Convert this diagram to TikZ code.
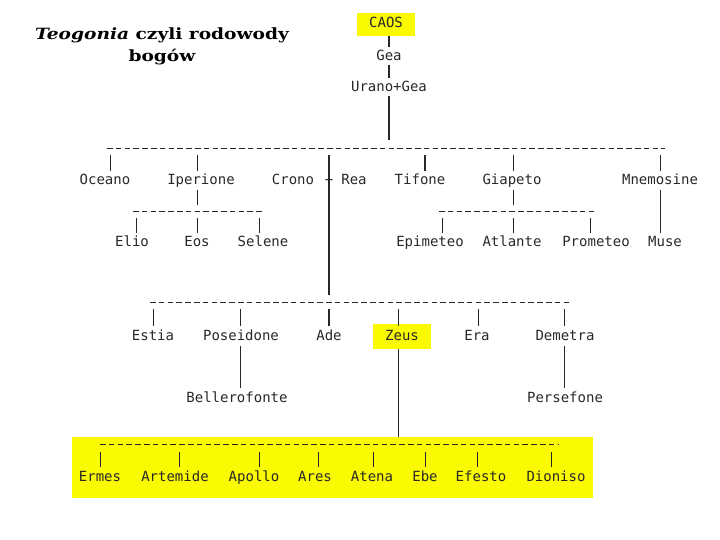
\documentclass[tikz,border=0pt]{standalone}
\usepackage{fontspec}
\setmainfont{DejaVu Serif}
\newfontfamily\treefont{DejaVu Sans Mono}
\usetikzlibrary{positioning,calc}
\definecolor{caosyellow}{RGB}{250,250,0}
\definecolor{inkgray}{RGB}{40,40,40}

\begin{document}
\begin{tikzpicture}[x=1pt,y=-1pt,
    god/.style={font=\treefont\fontsize{14}{14}\selectfont, text=inkgray, anchor=base,
      inner sep=0pt, text height=10pt, text depth=3pt},
    marked/.style={god, fill=caosyellow, inner xsep=12pt, inner ysep=6pt},
    pipe/.style={draw=inkgray, line width=0.8pt},
    trunk/.style={draw=inkgray, line width=2pt},
    dashrow/.style={draw=inkgray, line width=0.8pt, dash pattern=on 5.5pt off 3.3pt}]
  \useasboundingbox (0,0) rectangle (720,540);

  \node[font=\bfseries\fontsize{15.5}{22}\selectfont, align=center, anchor=base] (title) at (162,62)
    {\scalebox{1.2}[1]{\textit{Teogonia} czyli rodowody}\\\scalebox{1.2}[1]{bogów}};

  % Caos, Gea, Urano
  \node[marked, inner ysep=5pt] (caos) at (386,28) {CAOS};
  \node[god] (gea) at (389,61) {Gea};
  \node[god] (urano) at (389,92) {Urano+Gea};
  \draw[trunk] (389,0 |- caos.south) -- ([yshift=4pt]gea.north);
  \draw[trunk] (gea.south) ++(0,1) -- ([yshift=4pt]urano.north);
  \draw[trunk] (urano.south) ++(0,1) -- (389,140);

  % titani
  \coordinate (r1L) at (107,148);
  \coordinate (r1R) at (665,148);
  \draw[dashrow] (r1L) -- (r1R);
  \node[god] (oceano) at (105,185) {Oceano};
  \node[god] (iperione) at (201,185) {Iperione};
  \node[god] (crono) at (293,185) {Crono};
  \node[god] (plus) at (329,185) {+};
  \node[god] (rea) at (354,185) {Rea};
  \node[god] (tifone) at (420,185) {Tifone};
  \node[god] (giapeto) at (512,185) {Giapeto};
  \node[god] (mnemosine) at (660,185) {Mnemosine};
  \foreach \n/\x in {oceano/110, iperione/197, giapeto/513, mnemosine/660}
    \draw[pipe] (\x,0 |- \n.base) ++(0,-14) -- (\x,155);
  \draw[trunk] (425,0 |- tifone.base) ++(0,-14) -- (425,155);
  \draw[trunk] (plus.north |- r1L) ++(0,7) -- (329,295);

  % figli di Iperione
  \draw[pipe] (197,0 |- iperione.south) ++(0,2) -- (197,205);
  \draw[dashrow] (133,211) coordinate (r2aL) -- (262,211) coordinate (r2aR);
  \node[god] (elio) at (132,247) {Elio};
  \node[god] (eos) at (197,247) {Eos};
  \node[god] (selene) at (263,247) {Selene};
  \foreach \n/\x in {elio/136, eos/197, selene/259}
    \draw[pipe] (\x,0 |- \n.base) ++(0,-14) -- (\x,218);

  % figli di Giapeto
  \draw[pipe] (513,0 |- giapeto.south) ++(0,2) -- (513,205);
  \draw[dashrow] (439,211) coordinate (r2bL) -- (594,211) coordinate (r2bR);
  \node[god] (epimeteo) at (430,247) {Epimeteo};
  \node[god] (atlante) at (512,247) {Atlante};
  \node[god] (prometeo) at (596,247) {Prometeo};
  \node[god] (muse) at (665,247) {Muse};
  \foreach \n/\x in {epimeteo/442, atlante/513, prometeo/590}
    \draw[pipe] (\x,0 |- \n.base) ++(0,-14) -- (\x,218);
  \draw[pipe] (660,0 |- muse.base) ++(0,-14) -- (660,190);

  % figli di Crono e Rea
  \coordinate (r3L) at (150,302);
  \coordinate (r3R) at (570,302);
  \draw[dashrow] (r3L) -- (r3R);
  \node[god] (estia) at (153,340) {Estia};
  \node[god] (poseidone) at (241,340) {Poseidone};
  \node[god] (ade) at (329,340) {Ade};
  \node[marked] (zeus) at (402,340) {Zeus};
  \node[god] (era) at (477,340) {Era};
  \node[god] (demetra) at (565,340) {Demetra};
  \foreach \n/\x in {estia/153, poseidone/240, zeus/398, era/478, demetra/564}
    \draw[pipe] (\x,0 |- \n.base) ++(0,-14) -- (\x,309);
  \draw[trunk] (329,0 |- ade.base) ++(0,-14) -- (329,309);

  \node[god] (bellerofonte) at (237,402) {Bellerofonte};
  \node[god] (persefone) at (565,402) {Persefone};
  \draw[pipe] (240,0 |- bellerofonte.base) ++(0,-14) -- (240,346);
  \draw[pipe] (564,0 |- persefone.base) ++(0,-14) -- (564,346);

  % figli di Zeus
  \node[fill=caosyellow, minimum width=521pt, minimum height=61pt, inner sep=0pt] (kids) at (332.5,467.5) {};
  \draw[pipe] (398,0 |- zeus.south) -- (398,0 |- kids.north);
  \draw[dashrow] (100,444) coordinate (r4L) -- (558,444) coordinate (r4R);
  \node[god] (ermes) at (100,481) {Ermes};
  \node[god] (artemide) at (175,481) {Artemide};
  \node[god] (apollo) at (254,481) {Apollo};
  \node[god] (ares) at (315,481) {Ares};
  \node[god] (atena) at (372,481) {Atena};
  \node[god] (ebe) at (425,481) {Ebe};
  \node[god] (efesto) at (481,481) {Efesto};
  \node[god] (dioniso) at (556,481) {Dioniso};
  \foreach \n/\x in {ermes/100, artemide/179, apollo/259, ares/318, atena/373, ebe/425, efesto/477, dioniso/551}
    \draw[pipe] (\x,0 |- \n.base) ++(0,-14) -- (\x,452);
\end{tikzpicture}
\end{document}
